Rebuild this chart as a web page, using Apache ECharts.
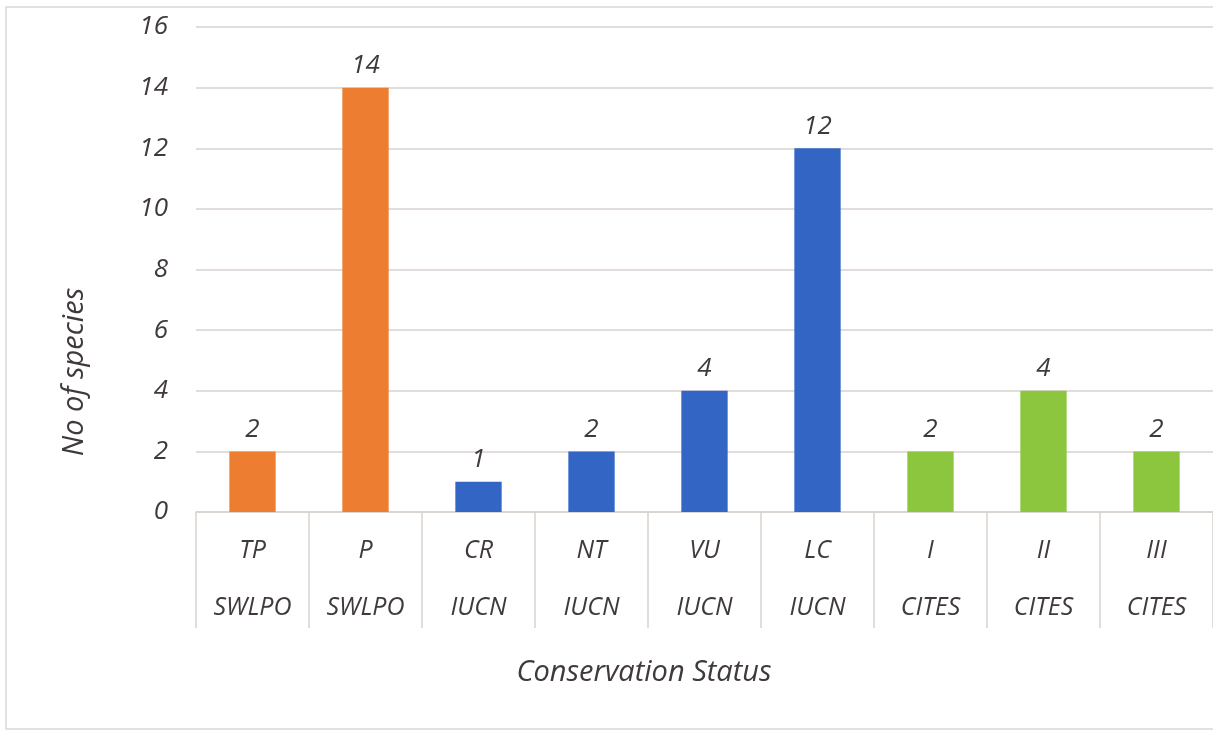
<!DOCTYPE html>
<html>
<head>
<meta charset="utf-8">
<script src="https://cdn.jsdelivr.net/npm/echarts@6/dist/echarts.min.js"></script>
<style>
  html, body { margin: 0; padding: 0; background: #fff; overflow: hidden; }
  #chart { width: 1213px; height: 733px; }
</style>
</head>
<body>
<div id="chart"></div>
<script>
const categories = ['TP', 'P', 'CR', 'NT', 'VU', 'LC', 'I', 'II', 'III']
const groups = ['SWLPO', 'SWLPO', 'IUCN', 'IUCN', 'IUCN', 'IUCN', 'CITES', 'CITES', 'CITES']
const species = [2, 14, 1, 2, 4, 12, 2, 4, 2]
const yTicks = [0, 2, 4, 6, 8, 10, 12, 14, 16]

const groupColor = { SWLPO: '#ED7D31', IUCN: '#3366C4', CITES: '#8CC63F' }
const FONT = '"Open Sans", "Liberation Sans", sans-serif'
const TEXT = '#403a3a'
const LINE = '#d9d2ce'

const chart = echarts.init(document.getElementById('chart'), null, { renderer: 'canvas' })

chart.setOption({
  backgroundColor: '#fff',
  animation: false,
  grid: { left: 196, right: -3, top: 27, bottom: 221, containLabel: false },
  xAxis: {
    type: 'category',
    data: categories,
    axisLine: { lineStyle: { color: LINE, width: 1.5 } },
    axisTick: { show: true, length: 116, lineStyle: { color: LINE, width: 1.5 } },
    axisLabel: {
      margin: 10,
      color: TEXT,
      fontSize: 25,
      fontStyle: 'italic',
      fontFamily: FONT,
      lineHeight: 57,
      interval: 0,
      formatter: (v, i) => v + '\n' + groups[i]
    }
  },
  yAxis: {
    type: 'value',
    min: yTicks[0],
    max: yTicks[yTicks.length - 1],
    interval: 2,
    axisLine: { show: false },
    axisTick: { show: false },
    axisLabel: { margin: 28, color: TEXT, fontSize: 26, fontStyle: 'italic', fontFamily: FONT },
    splitLine: { lineStyle: { color: LINE, width: 1.5 } }
  },
  series: [{
    type: 'bar',
    barWidth: '41%',
    data: species.map((v, i) => ({ value: v, itemStyle: { color: groupColor[groups[i]] } })),
    label: {
      show: true,
      position: 'top',
      distance: 9,
      color: TEXT,
      fontSize: 26,
      fontStyle: 'italic',
      fontFamily: FONT
    }
  }],
  graphic: [
    {
      type: 'rect',
      shape: { x: 6, y: 7, width: 1220, height: 722 },
      style: { fill: 'none', stroke: '#dcd6d3', lineWidth: 1.5 },
      silent: true
    },
    {
      type: 'text',
      x: 75, y: 372,
      rotation: Math.PI / 2,
      style: {
        text: 'No of species', fill: TEXT, fontSize: 29, fontStyle: 'italic', fontFamily: FONT,
        align: 'center', verticalAlign: 'middle'
      }
    },
    {
      type: 'text',
      x: 644, y: 673,
      style: {
        text: 'Conservation Status', fill: TEXT, fontSize: 29, fontStyle: 'italic', fontFamily: FONT,
        align: 'center', verticalAlign: 'middle'
      }
    }
  ]
})
</script>
</body>
</html>
